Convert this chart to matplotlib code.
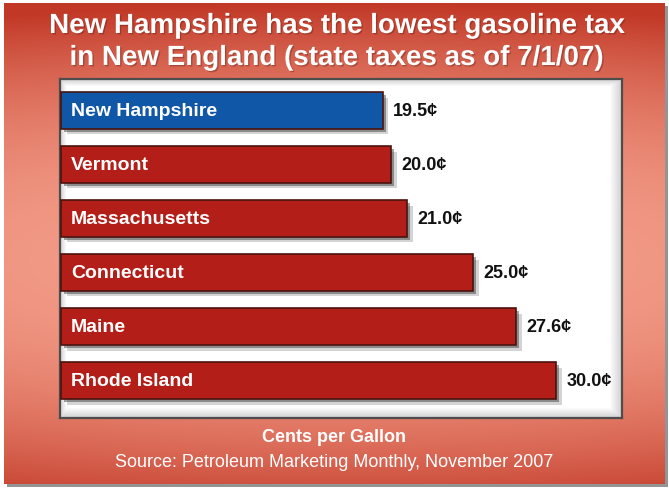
import numpy as np
import matplotlib.pyplot as plt
import matplotlib.patheffects as pe
from matplotlib.patches import Rectangle

states = ['New Hampshire', 'Vermont', 'Massachusetts', 'Connecticut', 'Maine', 'Rhode Island']
tax = [19.5, 20.0, 21.0, 25.0, 27.6, 30.0]
value_labels = ['19.5¢', '20.0¢', '21.0¢', '25.0¢', '27.6¢', '30.0¢']
bar_colors = ['#1157a7', '#b31e18', '#b31e18', '#b31e18', '#b31e18', '#b31e18']

title_lines = ['New Hampshire has the lowest gasoline tax',
               'in New England (state taxes as of 7/1/07)']
xlabel = 'Cents per Gallon'
source = 'Source: Petroleum Marketing Monthly, November 2007'

plt.rcParams['font.family'] = ['Liberation Sans', 'DejaVu Sans']

W, H = 669, 489
fig = plt.figure(figsize=(W / 100, H / 100), dpi=100)
fig.patch.set_facecolor('white')

# background: red card with gradient and a drop shadow
bg = fig.add_axes([0, 0, 1, 1])
bg.set_xlim(0, W)
bg.set_ylim(H, 0)
bg.axis('off')
bg.add_patch(Rectangle((7, 7), 661, 481, color='#7a7a7a', alpha=0.8, lw=0))

gx, gy = np.meshgrid(np.linspace(4, 665, 330), np.linspace(4, 485, 240))
d = np.sqrt(((gx - 335) / 1100) ** 2 + ((gy - 262) / 258) ** 2)
t = np.clip(d, 0, 1) ** 2.2
light = np.array([0.955, 0.62, 0.54])
dark = np.array([0.76, 0.22, 0.15])
grad = light[None, None, :] * (1 - t[..., None]) + dark[None, None, :] * t[..., None]
bg.imshow(grad, extent=(4, 665, 485, 4), aspect='auto', interpolation='bilinear', zorder=1)

glow = [pe.withSimplePatchShadow(offset=(1, -1), shadow_rgbFace='#5a1a10', alpha=0.35)]
for k, line in enumerate(title_lines):
    fig.text(0.503, 1 - (34 + 32 * k) / H, line, ha='center', va='baseline', color='white',
             fontsize=20, fontweight='bold', path_effects=glow)
fig.text(0.5, 1 - 438 / H, xlabel, ha='center', va='center', color='white',
         fontsize=13, fontweight='bold')
fig.text(0.5, 1 - 463 / H, source, ha='center', va='center', color='white', fontsize=13)

# white panel with the bars
ax = fig.add_axes([60 / W, (H - 419) / H, 562 / W, 339 / H])
ax.set_xlim(-0.06, 34)
ax.set_ylim(5.69, -0.58)
ax.set_facecolor('white')

# soft inner shading along the panel edges
px = np.arange(562)
py = np.arange(339)
ex = np.minimum(np.clip(px / 6, 0, 1), np.clip((561 - px) / 12, 0, 1))
ey = np.minimum(np.clip(py / 7, 0, 1), np.clip((338 - py) / 10, 0, 1))
edge = np.minimum(ex[None, :], ey[:, None])
shade = np.ones((339, 562, 4))
shade[..., :3] = 0.6
shade[..., 3] = (1 - edge) * 0.45
ax.imshow(shade, extent=(-0.06, 34, 5.69, -0.58), aspect='auto', zorder=0)

bars = ax.barh(range(len(states)), tax, height=0.68, color=bar_colors,
               edgecolor='#4a140f', linewidth=1.2, zorder=3)
for b in bars:
    b.set_path_effects([
        pe.SimplePatchShadow(offset=(4, -4), shadow_rgbFace='#555555', alpha=0.25),
        pe.SimplePatchShadow(offset=(2, -2), shadow_rgbFace='#333333', alpha=0.45),
        pe.Normal()])

for i, (name, v, lab) in enumerate(zip(states, tax, value_labels)):
    ax.text(0.6, i, name, ha='left', va='center', color='white',
            fontsize=14, fontweight='bold', zorder=4)
    ax.text(v + 0.62, i, lab, ha='left', va='center', color='#111111',
            fontsize=13, fontweight='bold', zorder=4)

ax.set_xticks([])
ax.set_yticks([])
for s in ax.spines.values():
    s.set_color('#4d4d4d')
    s.set_linewidth(1.6)

fig.savefig('out.png', dpi=100)
